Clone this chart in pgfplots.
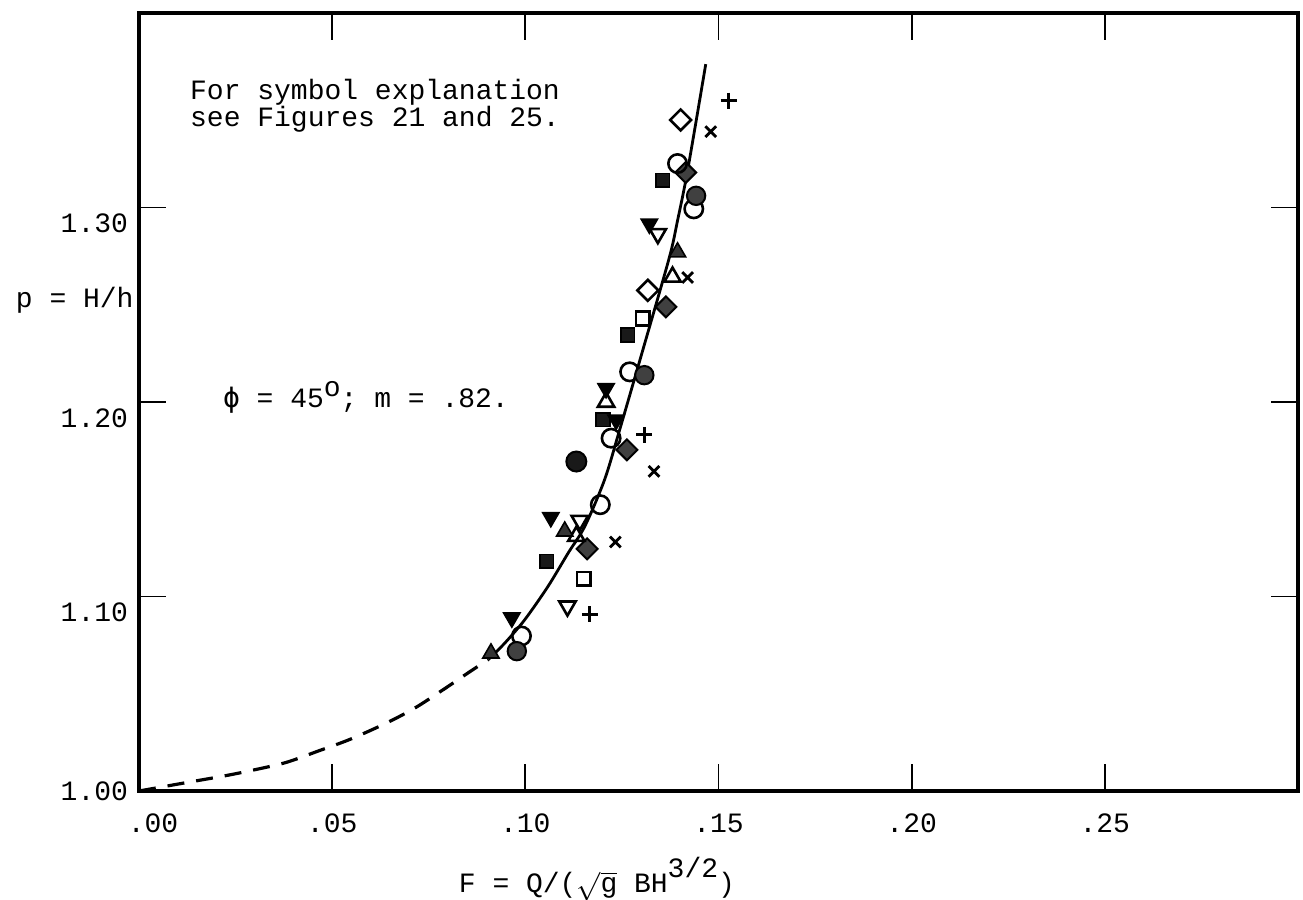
\documentclass[border=0pt]{standalone}
\usepackage{pgfplots}
\pgfplotsset{compat=1.18}
\usepackage{fontspec}
\setmainfont{Liberation Mono}
\newfontfamily\dejavu{DejaVu Sans Mono}
\begin{document}
\begin{tikzpicture}
\begin{axis}[
  scale only axis,
  width=579.5pt, height=389pt,
  xmin=0, xmax=0.30, ymin=1.0, ymax=1.40,
  axis line style={line width=1.6pt},
  xtick={0.05,0.10,0.15,0.20,0.25},
  xticklabels={.05,.10,.15,.20,.25},
  extra x ticks={0},
  extra x tick labels={.00},
  extra x tick style={xticklabel style={xshift=7pt}},
  ytick={1.1,1.2,1.3},
  yticklabels={1.10,1.20,1.30},
  extra y ticks={1.0},
  extra y tick labels={1.00},
  extra y tick style={yticklabel style={yshift=8pt}},
  tick align=inside,
  major tick length=13.5pt,
  tick style={line width=0.9pt, black},
  xticklabel style={yshift=-8pt},
  yticklabel style={yshift=-8pt, xshift=-2pt},
  font=\fontsize{14}{14}\selectfont,
  clip=false,
]
\coordinate (sw) at (rel axis cs:0,0);
\coordinate (ne) at (rel axis cs:1,1);

% dashed extrapolation
\addplot[smooth, line width=1.6pt, dash pattern=on 8.5pt off 6pt] coordinates {
 (0.0000,1.0000) (0.0136,1.0048) (0.0222,1.0078) (0.0299,1.0109) (0.0381,1.0147)
 (0.0466,1.0207) (0.0548,1.0267) (0.0643,1.0352) (0.0716,1.0429) (0.0789,1.0523)
 (0.0853,1.0609) (0.0905,1.0677)};
% solid curve
\addplot[smooth, line width=1.4pt] coordinates {
 (0.0905,1.0677) (0.0948,1.0763) (0.0999,1.0882) (0.1059,1.1053) (0.1111,1.1224)
 (0.1154,1.1361) (0.1205,1.1600) (0.1244,1.1856) (0.1309,1.2301) (0.1373,1.2745)
 (0.1394,1.2933) (0.1420,1.3190) (0.1467,1.3737)};

% open diamonds
\addplot[only marks, mark=square, mark size=3.7pt, mark options={rotate=45, line width=1.3pt, black}] coordinates {
 (0.1402,1.345) (0.1317,1.2574)};
% shaded diamonds
\addplot[only marks, mark=square*, mark size=3.7pt, mark options={rotate=45, line width=1pt, draw=black, fill=black!75}] coordinates {
 (0.1415,1.318) (0.1364,1.2489) (0.1263,1.1754) (0.1160,1.1245)};
% plus
\addplot[only marks, mark=+, mark size=4pt, mark options={line width=1.4pt, black}] coordinates {
 (0.1526,1.355) (0.1308,1.1831) (0.1167,1.0908)};
% cross
\addplot[only marks, mark=x, mark size=3.8pt, mark options={line width=1.4pt, black}] coordinates {
 (0.1480,1.339) (0.1420,1.264) (0.1333,1.1643) (0.1233,1.128)};
% open circles
\addplot[only marks, mark=o, mark size=4.6pt, mark options={line width=1.3pt, black}] coordinates {
 (0.1394,1.3226) (0.1436,1.2993) (0.1270,1.2155) (0.1222,1.1814) (0.1194,1.1472) (0.0990,1.0797)};
% shaded circles
\addplot[only marks, mark=*, mark size=4.6pt, mark options={line width=1pt, draw=black, fill=black!75}] coordinates {
 (0.1442,1.306) (0.1308,1.2138) (0.0978,1.0719)};
\addplot[only marks, mark=*, mark size=5pt, mark options={line width=1pt, draw=black, fill=black!90}] coordinates {
 (0.1132,1.1694)};
% filled squares
\addplot[only marks, mark=square*, mark size=3.4pt, mark options={line width=0.8pt, draw=black, fill=black!90}] coordinates {
 (0.1356,1.314) (0.1265,1.2344) (0.1201,1.1908) (0.1055,1.1181)};
% open squares
\addplot[only marks, mark=square, mark size=3.4pt, mark options={line width=1.3pt, black}] coordinates {
 (0.1304,1.2429) (0.1151,1.1092)};
% filled down triangles
\addplot[only marks, mark=triangle*, mark size=4.7pt, mark options={rotate=180, line width=0.8pt, draw=black, fill=black}] coordinates {
 (0.1321,1.2916) (0.1209,1.207) (0.1066,1.1407) (0.0965,1.0891) (0.1235,1.1908)};
% open down triangles
\addplot[only marks, mark=triangle, mark size=4.7pt, mark options={rotate=180, line width=1.3pt, black}] coordinates {
 (0.1343,1.2865) (0.1141,1.139) (0.1109,1.095)};
% open up triangles
\addplot[only marks, mark=triangle, mark size=4.7pt, mark options={line width=1.3pt, black}] coordinates {
 (0.1381,1.2643) (0.1209,1.200) (0.1132,1.131)};
% shaded up triangles
\addplot[only marks, mark=triangle*, mark size=4.7pt, mark options={line width=0.8pt, draw=black, fill=black!80}] coordinates {
 (0.1394,1.277) (0.1102,1.1335) (0.0911,1.0708)};

% annotations
\node[anchor=base west, inner sep=0pt] at (axis cs:0.01314,1.3553) {For symbol explanation};
\node[anchor=base west, inner sep=0pt] at (axis cs:0.01314,1.3414) {see Figures 21 and 25.};
\node[anchor=base west, inner sep=0pt] at (axis cs:0.02165,1.1974) {{\dejavu ϕ} = 45\raisebox{5.5pt}{o}; m = .82.};
\node[anchor=base west, inner sep=0pt] at (axis cs:-0.03196,1.2488) {p = H/h};
\node[anchor=base west, inner sep=0pt] at (axis cs:0.0827,0.9476) {F = Q/($\sqrt{\mbox{g}}$ BH\raisebox{7.5pt}{3/2})};
\end{axis}
\pgfresetboundingbox
\path[use as bounding box] ([xshift=-69.5pt,yshift=-54pt]sw) rectangle ([xshift=2.5pt,yshift=6.5pt]ne);
\end{tikzpicture}
\end{document}
